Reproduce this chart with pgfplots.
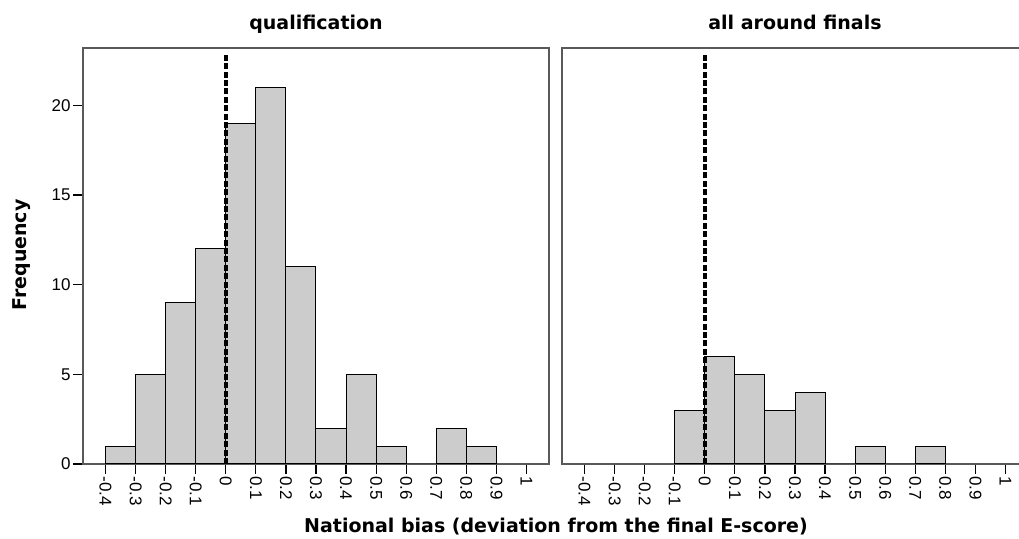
\documentclass[border=0pt]{standalone}
\usepackage{pgfplots}
\pgfplotsset{compat=1.18}
\usepackage{fontspec}
\setmainfont{Liberation Sans}
\newfontfamily\labfont{DejaVu Sans}
\definecolor{barfill}{HTML}{CCCCCC}
\pgfplotsset{panel/.style={
  scale only axis, width=233pt, height=208pt,
  xmin=-0.475, xmax=1.075, ymin=0, ymax=23.2,
  /pgf/number format/assume math mode=true,
  xtick={-0.4,-0.3,-0.2,-0.1,0,0.1,0.2,0.3,0.4,0.5,0.6,0.7,0.8,0.9,1},
  xticklabels={-0.4,-0.3,-0.2,-0.1,0,0.1,0.2,0.3,0.4,0.5,0.6,0.7,0.8,0.9,1},
  xticklabel style={rotate=-90, anchor=west, font=\fontsize{8.5}{9}\selectfont, inner sep=1pt},
  yticklabel style={font=\fontsize{8.5}{9}\selectfont, inner sep=1pt},
  tick align=outside, major tick length=5pt, tick pos=left,
  axis line style={draw=black!65, line width=1pt},
  tick style={black, line width=0.6pt},
  every axis title shift=0pt,
  title style={font=\labfont\bfseries\fontsize{9.5}{11}\selectfont, at={(0.5,1)}, anchor=base, yshift=9pt},
}}
\begin{document}
\begin{tikzpicture}
\begin{axis}[panel, at={(0,0)}, anchor=south west, title={qualification},
  ytick={0,5,10,15,20}]
\addplot[ybar interval, fill=barfill, draw=black, line width=0.5pt] coordinates {
(-0.4,1) (-0.3,5) (-0.2,9) (-0.1,12) (0,19) (0.1,21) (0.2,11) (0.3,2) (0.4,5) (0.5,1) (0.6,0) (0.7,2) (0.8,1) (0.9,1)};
\addplot[draw=black, line width=1.8pt, dash pattern=on 3pt off 1.2pt] coordinates {(0,0) (0,22.8)};
\end{axis}
\begin{axis}[panel, at={(239.5pt,0)}, anchor=south west, title={all around finals},
  ytick=\empty]
\addplot[ybar interval, fill=barfill, draw=black, line width=0.5pt] coordinates {
(-0.1,3) (0,6) (0.1,5) (0.2,3) (0.3,4) (0.4,0) (0.5,1) (0.6,0) (0.7,1) (0.8,1)};
\addplot[draw=black, line width=1.8pt, dash pattern=on 3pt off 1.2pt] coordinates {(0,0) (0,22.8)};
\end{axis}
\node[rotate=90, font=\labfont\bfseries\fontsize{9.5}{11}\selectfont] at (-30.5pt,104.5pt) {Frequency};
\node[anchor=base, font=\labfont\bfseries\fontsize{9.5}{11}\selectfont] at (236.5pt,-34.5pt) {National bias (deviation from the final E-score)};
\pgfresetboundingbox
\path (-41.5pt,-37.5pt) rectangle (468pt,232pt);
\end{tikzpicture}
\end{document}
